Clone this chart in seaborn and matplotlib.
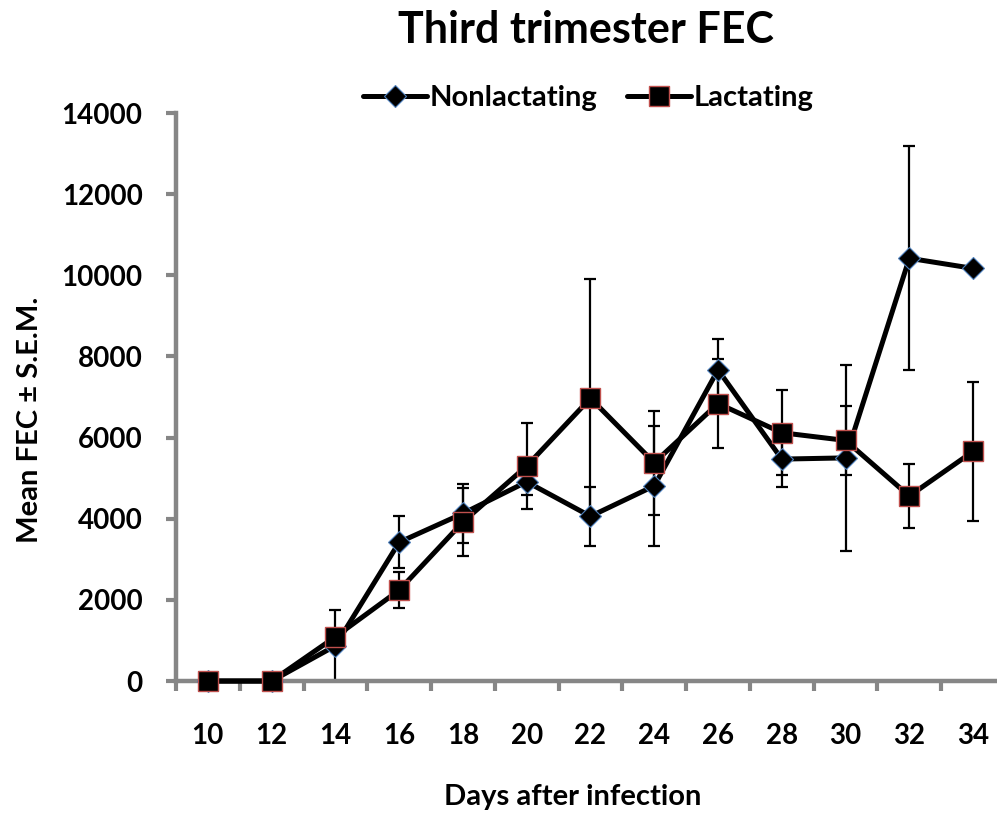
"""Third trimester faecal egg counts, nonlactating vs lactating, with S.E.M. bars."""

import matplotlib.pyplot as plt
import pandas as pd
import seaborn as sns

DAYS = [10, 12, 14, 16, 18, 20, 22, 24, 26, 28, 30, 32, 34]

NONLACT_MEAN = [0, 0, 870, 3420, 4130, 4910, 4060, 4810, 7670, 5470, 5500, 10420, 10170]
NONLACT_SEM = [0, 0, 870, 640, 720, 330, 720, 1470, 760, 690, 2300, 2760, 0]

LACT_MEAN = [0, 0, 1090, 2240, 3920, 5300, 6970, 5380, 6840, 6120, 5930, 4560, 5660]
LACT_SEM = [0, 0, 200, 450, 840, 1070, 2940, 1280, 1090, 1045, 855, 785, 1720]

AXIS_GRAY = "#868686"

sns.set_style("white")
plt.rcParams["font.family"] = ["Lato", "DejaVu Sans"]
plt.rcParams["font.weight"] = "bold"
plt.rcParams["text.color"] = "black"


def build_frame(mean, sem, group):
    return pd.DataFrame({"day": DAYS, "fec": mean, "sem": sem, "group": group})


def main() -> None:
    nonlact = build_frame(NONLACT_MEAN, NONLACT_SEM, "Nonlactating")
    lact = build_frame(LACT_MEAN, LACT_SEM, "Lactating")

    fig = plt.figure(figsize=(9.97, 8.16), dpi=100)
    ax = fig.add_axes([0.1765, 0.1654, 0.8315, 0.6961])

    # error bars sit underneath the lines and markers, like the Excel original
    for df in (nonlact, lact):
        ax.errorbar(
            df["day"], df["fec"], yerr=df["sem"], fmt="none",
            ecolor="black", elinewidth=1.6, capsize=4.6, capthick=1.6, zorder=1,
        )

    sns.lineplot(
        data=nonlact, x="day", y="fec", color="black", linewidth=3.6,
        marker="D", markersize=11, markeredgecolor="#4f81bd", markeredgewidth=0.8,
        label="Nonlactating", ax=ax, zorder=2, clip_on=False,
    )
    sns.lineplot(
        data=lact, x="day", y="fec", color="black", linewidth=3.6,
        marker="s", markersize=14, markeredgecolor="#c0504d", markeredgewidth=1.0,
        label="Lactating", ax=ax, zorder=3, clip_on=False,
    )

    ax.set_xlim(9, 35)
    ax.set_ylim(0, 14000)
    ax.set_xticks(DAYS)
    ax.set_xticks([d - 1 for d in DAYS] + [35], minor=True)
    ax.set_yticks(range(0, 14001, 2000))
    ax.tick_params(which="both", bottom=True, left=True)
    ax.tick_params(axis="x", which="major", length=0, pad=30, labelsize=20)
    ax.tick_params(axis="x", which="minor", length=7, width=3, color=AXIS_GRAY,
                   direction="out")
    ax.tick_params(axis="y", length=7, width=3, color=AXIS_GRAY, direction="out",
                   pad=17, labelsize=20)
    ax.tick_params(axis="both", labelcolor="black")

    for side in ("top", "right"):
        ax.spines[side].set_visible(False)
    for side in ("left", "bottom"):
        ax.spines[side].set_color(AXIS_GRAY)
        ax.spines[side].set_linewidth(3.2)
        ax.spines[side].set_zorder(1.5)

    ax.set_xlabel("")
    ax.set_ylabel("")
    fig.text(0.574, 0.023, "Days after infection", ha="center", va="center",
             fontsize=21, fontweight="bold")
    fig.text(0.030, 0.485, "Mean FEC \u00b1 S.E.M.", ha="center", va="center",
             rotation=90, fontsize=21, fontweight="bold")
    fig.text(0.588, 0.963, "Third trimester FEC", ha="center", va="center",
             fontsize=31, fontweight="bold")

    handles, labels = ax.get_legend_handles_labels()
    ax.get_legend().remove()
    fig.legend(
        handles, labels, loc="center", bbox_to_anchor=(0.590, 0.880), ncol=2,
        frameon=False, fontsize=21, handlelength=2.2, handletextpad=0.1,
        columnspacing=1.0,
    )

    fig.savefig("out.png", dpi=100)
    plt.close(fig)


if __name__ == "__main__":
    main()
